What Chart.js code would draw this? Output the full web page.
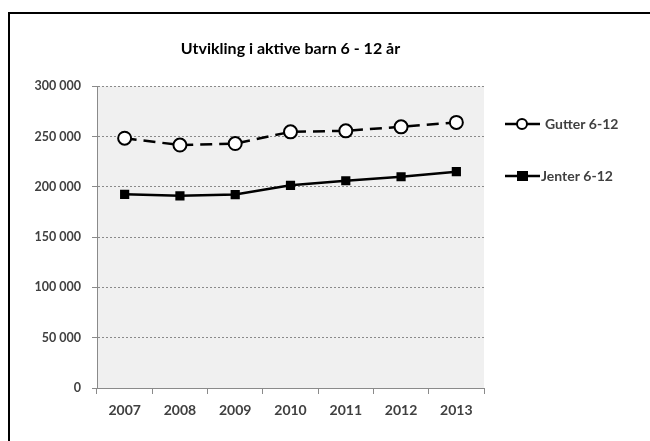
<!DOCTYPE html>
<html>
<head>
<meta charset="utf-8">
<script src="https://cdn.jsdelivr.net/npm/chart.js@4.4.1/dist/chart.umd.min.js"></script>
<style>
  html, body { margin: 0; padding: 0; background: #fff; overflow: hidden; }
  #wrap { position: relative; width: 650px; height: 441px; }
  #frame { position: absolute; left: 8px; top: 12px; width: 700px; height: 500px; border: 2px solid #000; box-sizing: border-box; }
  canvas { position: absolute; left: 0; top: 0; }
</style>
</head>
<body>
<div id="wrap">
  <div id="frame"></div>
  <canvas id="chart" width="650" height="441"></canvas>
</div>
<script>
const years = ["2007", "2008", "2009", "2010", "2011", "2012", "2013"];
const gutter = [248300, 241500, 243000, 254600, 255600, 259600, 264000];
const jenter = [192500, 191000, 192300, 201500, 206000, 210000, 215000];
const yTicks = [0, 50000, 100000, 150000, 200000, 250000, 300000];

const FONT = "Lato, 'Open Sans', sans-serif";

// grey plot area background
const plotBg = {
  id: "plotBg",
  beforeDraw(chart) {
    const { ctx, chartArea: a } = chart;
    ctx.save();
    ctx.fillStyle = "#f0f0f0";
    ctx.fillRect(a.left, a.top, a.right - a.left, a.bottom - a.top);
    ctx.restore();
  }
};

// excel style legend: line through marker, text on the right
const sideLegend = {
  id: "sideLegend",
  afterDraw(chart) {
    const ctx = chart.ctx;
    const rows = [124, 176];
    chart.data.datasets.forEach((ds, i) => {
      const y = rows[i];
      ctx.save();
      ctx.strokeStyle = "#000";
      ctx.lineWidth = 2.5;
      ctx.beginPath();
      ctx.moveTo(505, y);
      ctx.lineTo(540, y);
      ctx.stroke();
      if (ds.pointStyle === "circle") {
        ctx.beginPath();
        ctx.arc(522, y, 5, 0, Math.PI * 2);
        ctx.fillStyle = "#fff";
        ctx.fill();
        ctx.lineWidth = 2;
        ctx.stroke();
      } else {
        ctx.fillStyle = "#000";
        ctx.fillRect(517, y - 5, 11, 10);
      }
      ctx.fillStyle = "#404040";
      ctx.font = "bold 14px " + FONT;
      ctx.textBaseline = "middle";
      ctx.fillText(ds.label, i === 0 ? 545 : 541, y);
      ctx.restore();
    });
  }
};

new Chart(document.getElementById("chart"), {
  type: "line",
  data: {
    labels: years,
    datasets: [
      {
        label: "Gutter 6-12",
        data: gutter,
        borderColor: "#000",
        borderWidth: 2.5,
        borderDash: [12, 7],
        pointStyle: "circle",
        pointRadius: 6.5,
        pointBorderWidth: 2,
        pointBackgroundColor: "#fff",
        pointBorderColor: "#000",
        tension: 0
      },
      {
        label: "Jenter 6-12",
        data: jenter,
        borderColor: "#000",
        borderWidth: 2.5,
        pointStyle: "rect",
        pointRadius: 6.5,
        pointBorderWidth: 0,
        pointBackgroundColor: "#000",
        pointBorderColor: "#000",
        tension: 0
      }
    ]
  },
  options: {
    responsive: false,
    animation: false,
    layout: { padding: { left: 0, right: 166, top: 0, bottom: 0 } },
    plugins: {
      legend: { display: false },
      tooltip: { enabled: false },
      title: {
        display: true,
        fullSize: false,
        text: "Utvikling i aktive barn 6 - 12 år",
        color: "#000",
        font: { family: FONT, size: 16, weight: "bold" },
        padding: { top: 39, bottom: 28 }
      }
    },
    scales: {
      x: {
        offset: true,
        grid: { display: true, drawOnChartArea: false, drawTicks: true, tickLength: 6, color: "#8a8a8a", offset: true },
        border: { display: true, color: "#8a8a8a", width: 1 },
        ticks: { color: "#404040", font: { family: FONT, size: 14, weight: "bold" }, padding: 8 },
        afterFit(scale) { scale.height = 53; }
      },
      y: {
        min: 0,
        max: 300000,
        afterBuildTicks(scale) { scale.ticks = yTicks.map(v => ({ value: v })); },
        grid: { color: "#8a8a8a", tickColor: "#8a8a8a", tickLength: 5, lineWidth: 1 },
        border: { display: true, color: "#8a8a8a", width: 1, dash: [2, 2] },
        ticks: {
          color: "#404040",
          font: { family: FONT, size: 12.5, weight: "bold" },
          padding: 11,
          callback: v => v === 0 ? "0" : String(v).replace(/\B(?=(\d{3})+(?!\d))/g, " ")
        },
        afterFit(scale) { scale.width = 97; }
      }
    }
  },
  plugins: [plotBg, sideLegend]
});
</script>
</body>
</html>
